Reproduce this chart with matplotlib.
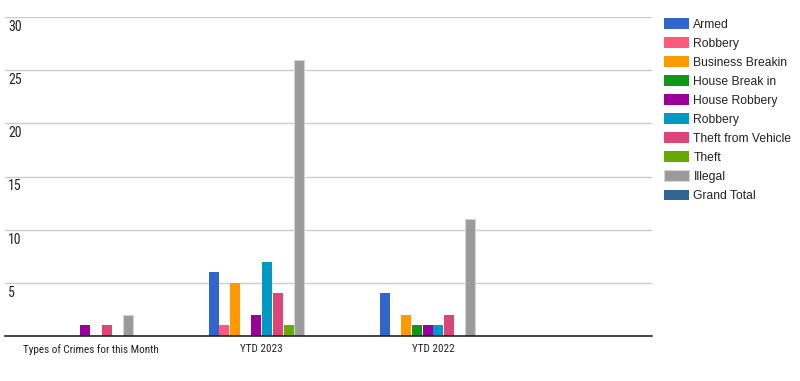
import numpy as np
import matplotlib
matplotlib.use('Agg')
import matplotlib.pyplot as plt
import matplotlib.transforms as mtrans

plt.rcParams['font.family'] = ['Liberation Sans', 'DejaVu Sans']
narrow = ['Roboto Condensed', 'Liberation Sans', 'DejaVu Sans']

# data
groups = ['Types of Crimes for this Month', 'YTD 2023', 'YTD 2022']
series = ['Armed', 'Robbery', 'Business Breakin', 'House Break in', 'House Robbery',
          'Robbery', 'Theft from Vehicle', 'Theft', 'Illegal', 'Grand Total']
armed = [0, 6, 4]
robbery1 = [0, 1, 0]
business = [0, 5, 2]
house_break = [0, 0, 1]
house_robbery = [1, 2, 1]
robbery2 = [0, 7, 1]
theft_vehicle = [1, 4, 2]
theft = [0, 1, 0]
illegal = [2, 26, 11]
grand_total = [0, 0, 0]
values = [armed, robbery1, business, house_break, house_robbery,
          robbery2, theft_vehicle, theft, illegal, grand_total]
colors = ['#3366cc', '#fd5a7c', '#ff9900', '#109618', '#990099',
          '#0099c6', '#dd4477', '#66aa00', '#9a9a9a', '#316395']
yticks = [5, 10, 15, 20, 25, 30]

W, H = 800, 381
fig = plt.figure(figsize=(W / 100, H / 100), dpi=100)
ax = fig.add_axes([5 / W, (H - 336) / H, (652 - 5) / W, (336 - 17) / H])

x = np.arange(len(groups))
pitch = 0.0626
n = len(series)
for i, (name, vals, c) in enumerate(zip(series, values, colors)):
    pos = x + (i - (n - 1) / 2) * pitch
    if name == 'Illegal':
        ax.bar(pos, vals, width=pitch * 0.93, color=c, edgecolor='#d4d4d4',
               linewidth=0.8, label=name)
    else:
        ax.bar(pos, vals, width=pitch * 0.93, color=c, label=name)

ax.set_xlim(-0.5, 3.28)
ax.set_ylim(0, 30)
ax.set_yticks(yticks)
ax.set_yticklabels([])
ax.tick_params(axis='y', length=0)
ax.grid(axis='y', color='#cccccc', linewidth=1)
ax.set_axisbelow(True)
for s in ['top', 'right', 'left']:
    ax.spines[s].set_visible(False)
ax.spines['bottom'].set_color('#222222')
ax.spines['bottom'].set_linewidth(1.2)
ax.spines['bottom'].set_zorder(5)

ax.set_xticks(x)
ax.set_xticklabels(groups, fontsize=8, color='#222222', family=narrow)
ax.tick_params(axis='x', length=0, pad=6)

off = mtrans.offset_copy(ax.get_yaxis_transform(), fig=fig, x=0, y=-10, units='dots')
for t in yticks:
    ax.text(3 / 647, t, str(t), transform=off, ha='left', va='center',
            fontsize=10, color='#222222', family=narrow)

handles, labels = ax.get_legend_handles_labels()
leg = fig.legend(handles, labels, loc='upper left',
                 bbox_to_anchor=(662 / W, (H - 16) / H), frameon=False,
                 fontsize=8.7, handlelength=2.0, handleheight=0.95,
                 labelspacing=0.55, handletextpad=0.4, borderaxespad=0,
                 borderpad=0.2)
for t in leg.get_texts():
    t.set_color('#222222')

fig.savefig('out.png', dpi=100)
